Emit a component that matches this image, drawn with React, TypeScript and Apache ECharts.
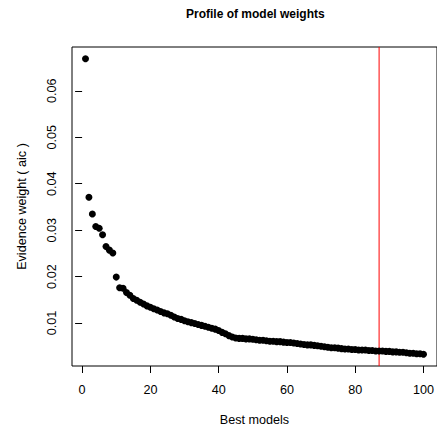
import React, { useEffect, useRef } from "react";
import * as echarts from "echarts";

const weights: number[] = [
  0.0669, 0.0371, 0.0335, 0.0308, 0.0304, 0.029, 0.0265, 0.0257, 0.0251, 0.0199,
  0.0176, 0.0175, 0.0166, 0.016, 0.0153, 0.0149, 0.0145, 0.0141, 0.0137, 0.0134,
  0.0131, 0.0128, 0.0125, 0.0122, 0.012, 0.0117, 0.0113, 0.011, 0.0108, 0.0105,
  0.0103, 0.0101, 0.0099, 0.0097, 0.0095, 0.0093, 0.0091, 0.0089, 0.0087, 0.0084,
  0.008, 0.0077, 0.0073, 0.007, 0.0068, 0.0067, 0.0067, 0.0066, 0.0066, 0.0065,
  0.0064, 0.0063, 0.0063, 0.0062, 0.0061, 0.0061, 0.006, 0.006, 0.0059, 0.0058,
  0.0058, 0.0057, 0.0056, 0.0055, 0.0054, 0.0053, 0.0053, 0.0052, 0.0051, 0.005,
  0.0049, 0.0048, 0.0047, 0.0047, 0.0046, 0.0045, 0.0044, 0.0044, 0.0043, 0.0043,
  0.0042, 0.0042, 0.0042, 0.0041, 0.0041, 0.004, 0.004, 0.004, 0.0039, 0.0039,
  0.0038, 0.0038, 0.0037, 0.0037, 0.0036, 0.0035, 0.0035, 0.0034, 0.0034, 0.0033,
];
const xTicks: number[] = [0, 20, 40, 60, 80, 100];
const yTicks: number[] = [0.01, 0.02, 0.03, 0.04, 0.05, 0.06];
const cutoff = 87;

const FONT = "'Liberation Sans', Arial, Helvetica, sans-serif";

export default function App() {
  const ref = useRef<HTMLDivElement>(null);
  useEffect(() => {
    if (!ref.current) return;
    const chart = echarts.init(ref.current, undefined, { renderer: "svg" });
    const n = weights.length;
    const xPad = (n - 1) * 0.04;
    const dMin = Math.min(...weights);
    const dMax = Math.max(...weights);
    const yPad = (dMax - dMin) * 0.04;
    const yLo = dMin - yPad;
    const yHi = dMax + yPad;
    const points = weights.map((v, i) => [i + 1, v]);
    chart.setOption({
      animation: false,
      title: {
        text: "Profile of model weights",
        left: 186,
        top: 8,
        padding: 0,
        textStyle: { fontFamily: FONT, fontSize: 12, fontWeight: "bold", color: "#000" },
      },
      grid: {
        left: 72,
        top: 47,
        width: 367,
        height: 319,
        show: true,
        borderColor: "#000",
        borderWidth: 1,
        backgroundColor: "transparent",
        containLabel: false,
      },
      xAxis: {
        type: "value",
        min: 1 - xPad,
        max: n + xPad,
        name: "Best models",
        nameLocation: "middle",
        nameGap: 47,
        nameTextStyle: { fontFamily: FONT, fontSize: 12.6, color: "#000" },
        axisLine: { show: false },
        splitLine: { show: false },
        axisTick: {
          show: true,
          inside: false,
          length: 7,
          customValues: xTicks,
          lineStyle: { color: "#000", width: 1 },
        },
        axisLabel: {
          customValues: xTicks,
          margin: 17,
          fontFamily: FONT,
          fontSize: 12.6,
          color: "#000",
          formatter: (v: number) => String(Math.round(v)),
        },
      },
      yAxis: {
        type: "value",
        min: yLo,
        max: yHi,
        name: "Evidence weight ( aic )",
        nameLocation: "middle",
        nameGap: 44,
        nameTextStyle: { fontFamily: FONT, fontSize: 12.6, color: "#000" },
        axisLine: { show: false },
        splitLine: { show: false },
        axisTick: {
          show: true,
          inside: false,
          length: 7,
          customValues: yTicks,
          lineStyle: { color: "#000", width: 1 },
        },
        axisLabel: {
          customValues: yTicks,
          rotate: 90,
          margin: 14,
          fontFamily: FONT,
          fontSize: 12.6,
          color: "#000",
          formatter: (v: number) => v.toFixed(2),
        },
      },
      series: [
        {
          type: "line",
          data: [
            [cutoff, yLo],
            [cutoff, yHi],
          ],
          showSymbol: false,
          symbol: "none",
          silent: true,
          z: 1,
          itemStyle: { color: "#FF0000" },
          lineStyle: { color: "#FF0000", width: 1, type: "solid" },
        },
        {
          type: "scatter",
          data: points,
          symbol: "circle",
          symbolSize: 7,
          z: 2,
          itemStyle: { color: "#000", opacity: 1 },
        },
      ],
    });
    return () => chart.dispose();
  }, []);
  return (
    <div
      ref={ref}
      style={{ position: "absolute", left: 0, top: 0, width: 437, height: 433, background: "#fff" }}
    />
  );
}
